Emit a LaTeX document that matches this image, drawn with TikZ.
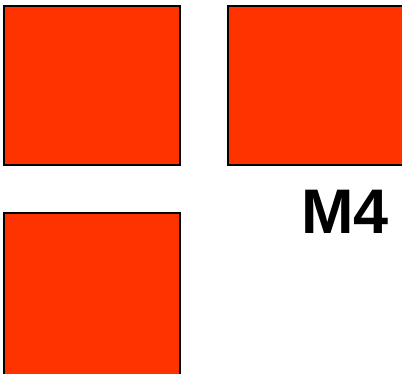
\documentclass[tikz,border=0pt]{standalone}
\usepackage{fontspec}
\setmainfont{Liberation Sans}
\definecolor{sq}{HTML}{FF3300}
\begin{document}
\begin{tikzpicture}[x=1pt,y=-1pt,
  sqbox/.style={fill=sq,draw=black,line width=2pt}]
\useasboundingbox (0,0) rectangle (402,373);
\begin{scope}
\clip (0,0) rectangle (402,373);
\path[sqbox] (4,6) rectangle (180,165);
\path[sqbox] (228,6) rectangle (420,165);
\path[sqbox] (4,213) rectangle (180,400);
\end{scope}
\node[font=\fontsize{63}{63}\selectfont\bfseries,anchor=base,inner sep=0pt] (m4) at (345,233) {M4};
\end{tikzpicture}
\end{document}
